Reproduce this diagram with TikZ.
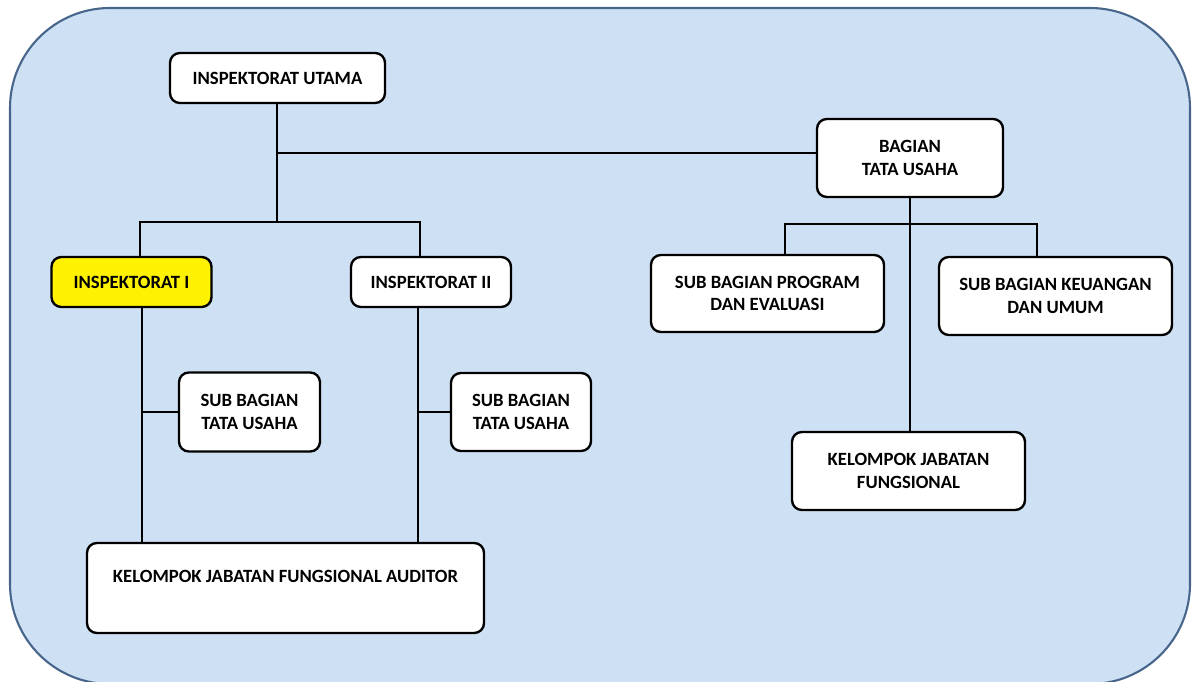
\documentclass[tikz,border=0pt]{standalone}
\usepackage{fontspec}
\setmainfont{Carlito}
\usepackage{tikz}
\usetikzlibrary{positioning}
\usetikzlibrary{calc}
\definecolor{paper}{RGB}{206,225,244}
\definecolor{rim}{RGB}{72,102,140}
\definecolor{mark}{RGB}{255,242,0}
\tikzstyle{unit}=[rectangle,draw,line width=1.7pt,rounded corners=7pt,fill=white,align=center,inner sep=2pt,font=\fontsize{13.3}{16}\selectfont\bfseries]
\tikzstyle{link}=[line width=1.6pt]

\begin{document}
\begin{tikzpicture}[x=0.025cm,y=-0.025cm]
\useasboundingbox (0,0) rectangle (1192,682);
%background
\draw[line width=1.5pt, draw=rim, fill=paper, rounded corners=2.5cm] (10,8) rectangle (1190,684);

%left side
\node[unit, minimum width=215*0.025cm, minimum height=50*0.025cm] (utama) at (277.5,78) {INSPEKTORAT UTAMA};
\node[unit, fill=mark, minimum width=160*0.025cm, minimum height=50*0.025cm] (inspI) at (131.5,282) {INSPEKTORAT I};
\node[unit, minimum width=160*0.025cm, minimum height=50*0.025cm] (inspII) at (431,282) {INSPEKTORAT II};
\node[unit, minimum width=141*0.025cm, minimum height=79*0.025cm] (subI) at (249.5,412) {SUB BAGIAN\\TATA USAHA};
\node[unit, minimum width=140*0.025cm, minimum height=78*0.025cm] (subII) at (521,412) {SUB BAGIAN\\TATA USAHA};
\node[unit, minimum width=397*0.025cm, minimum height=90*0.025cm] (auditor) at (285.5,588) {KELOMPOK JABATAN FUNGSIONAL AUDITOR\\\mbox{}};

%right side
\node[unit, minimum width=186*0.025cm, minimum height=78*0.025cm] (bagian) at (910,158) {BAGIAN\\TATA USAHA};
\node[unit, minimum width=233*0.025cm, minimum height=77*0.025cm] (program) at (767.5,293.5) {SUB BAGIAN PROGRAM\\DAN EVALUASI};
\node[unit, minimum width=233*0.025cm, minimum height=78*0.025cm] (keuangan) at (1055.5,296) {SUB BAGIAN KEUANGAN\\DAN UMUM};
\node[unit, minimum width=233*0.025cm, minimum height=78*0.025cm] (fungsional) at (908.5,471) {KELOMPOK JABATAN\\FUNGSIONAL};

%junctions
\coordinate (fork) at (277,222);
\coordinate (jB) at (277,153);
\coordinate (kI) at (140,222);
\coordinate (kII) at (420,222);
\coordinate (colI) at (142,0);
\coordinate (colII) at (418,0);
\coordinate (kP) at (785,224);
\coordinate (kK) at (1037,224);

%lines
\draw[link] (utama.south -| fork) -- (fork);
\draw[link] (jB) -- (jB -| bagian.west);
\draw[link] (kI |- inspI.north) -- (kI) -- (kII) -- (kII |- inspII.north);
\draw[link] (colI |- inspI.south) -- (colI |- auditor.north);
\draw[link] (colI |- subI.west) -- (subI.west);
\draw[link] (colII |- inspII.south) -- (colII |- auditor.north);
\draw[link] (colII |- subII.west) -- (subII.west);
\draw[link] (bagian.south) -- (bagian.south |- fungsional.north);
\draw[link] (kP |- program.north) -- (kP) -- (kK) -- (kK |- keuangan.north);

\end{tikzpicture}
\end{document}
